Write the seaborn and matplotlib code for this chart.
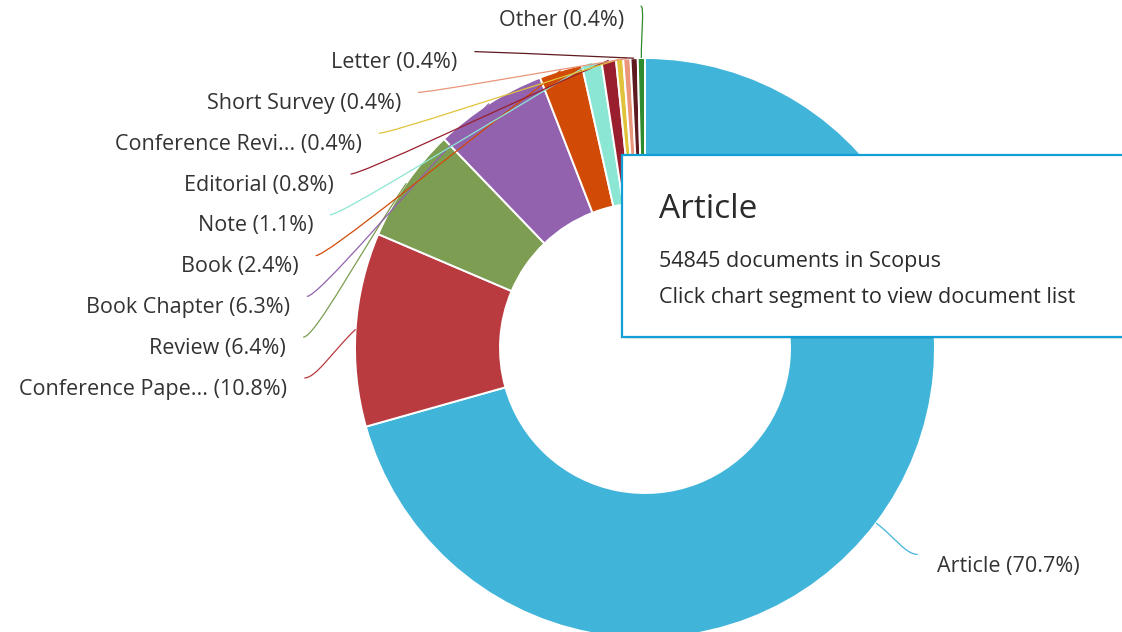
import numpy as np
import matplotlib
matplotlib.use("Agg")
import matplotlib.pyplot as plt
from matplotlib.path import Path
from matplotlib.patches import PathPatch, Rectangle
import seaborn as sns

sns.set_theme(style="white")
plt.rcParams['font.family'] = ['Open Sans', 'DejaVu Sans']

# document types (Scopus), share of documents in percent
doc_types = ["Article", "Conference Pape...", "Review", "Book Chapter", "Book",
             "Note", "Editorial", "Conference Revi...", "Short Survey", "Letter", "Other"]
shares = [70.7, 10.8, 6.4, 6.3, 2.4, 1.1, 0.8, 0.4, 0.4, 0.4, 0.4]
colors = ["#41b4da", "#b93a3f", "#7d9d52", "#9262ae", "#d14b06", "#8ce6d4",
          "#9a1f2e", "#e0c33a", "#e9967a", "#5e1a1f", "#2e8b2e"]
article_count = 54845

W, H = 1122, 632
fig = plt.figure(figsize=(W / 100, H / 100), dpi=100)
ax = fig.add_axes([0, 0, 1, 1])

cx, cy = 645, H - 348
r = 290
palette = sns.color_palette(colors)
wedges, _ = ax.pie(shares, colors=palette, radius=r, center=(cx, cy),
                   startangle=90, counterclock=False,
                   wedgeprops=dict(width=145, edgecolor="white", linewidth=1.4))
ax.set_xlim(0, W)
ax.set_ylim(0, H)
ax.set_aspect("equal")
ax.axis("off")

R = 342  # radius where connectors meet the labels
txt = "#333333"
lab_fs = 15.5
for i, (w, name, s) in enumerate(zip(wedges, doc_types, shares)):
    a = np.deg2rad((w.theta1 + w.theta2) / 2)
    tx, ty = cx + r * np.cos(a), cy + r * np.sin(a)
    if 1 <= i <= 9:
        # left column, stacked from the bottom up
        ly = H - (378 - 40.8 * (i - 1))
        lx = cx - np.sqrt(R ** 2 - (ly - cy) ** 2)
    else:
        lx, ly = cx + R * np.cos(a), cy + R * np.sin(a)
    right_side = lx > cx
    c1x = lx - 12 if right_side else lx + 12
    if i == len(doc_types) - 1:
        c1x = lx + 4
    verts = [(lx, ly), (c1x, ly), (lx + 0.55 * (tx - lx), ly + 0.55 * (ty - ly)), (tx, ty)]
    codes = [Path.MOVETO, Path.CURVE4, Path.CURVE4, Path.CURVE4]
    ax.add_patch(PathPatch(Path(verts, codes), fill=False, edgecolor=colors[i],
                           lw=0.9, zorder=3))
    label = f"{name} ({s}%)"
    if right_side:
        ax.text(lx + 19, ly - 12, label, ha="left", va="center", fontsize=lab_fs, color=txt)
    else:
        off = 14 if i == len(doc_types) - 1 else 11
        ax.text(lx - 17, ly - off, label, ha="right", va="center", fontsize=lab_fs, color=txt)

# tooltip for the hovered segment
ax.add_patch(Rectangle((625, H - 339), 520, 182, facecolor="#000000", alpha=0.08,
                       edgecolor="none", zorder=4))
ax.add_patch(Rectangle((622, H - 337), 520, 182, facecolor="white",
                       edgecolor="#129fd6", lw=1.6, zorder=5))
ax.text(659, H - 209, doc_types[0], fontsize=24, color="#2b2b2b", va="center", zorder=6)
ax.text(659, H - 261, f"{article_count} documents in Scopus", fontsize=15.5,
        color="#2b2b2b", va="center", zorder=6)
ax.text(659, H - 298, "Click chart segment to view document list", fontsize=15.5,
        color="#2b2b2b", va="center", zorder=6)

fig.savefig("out.png", dpi=100)
